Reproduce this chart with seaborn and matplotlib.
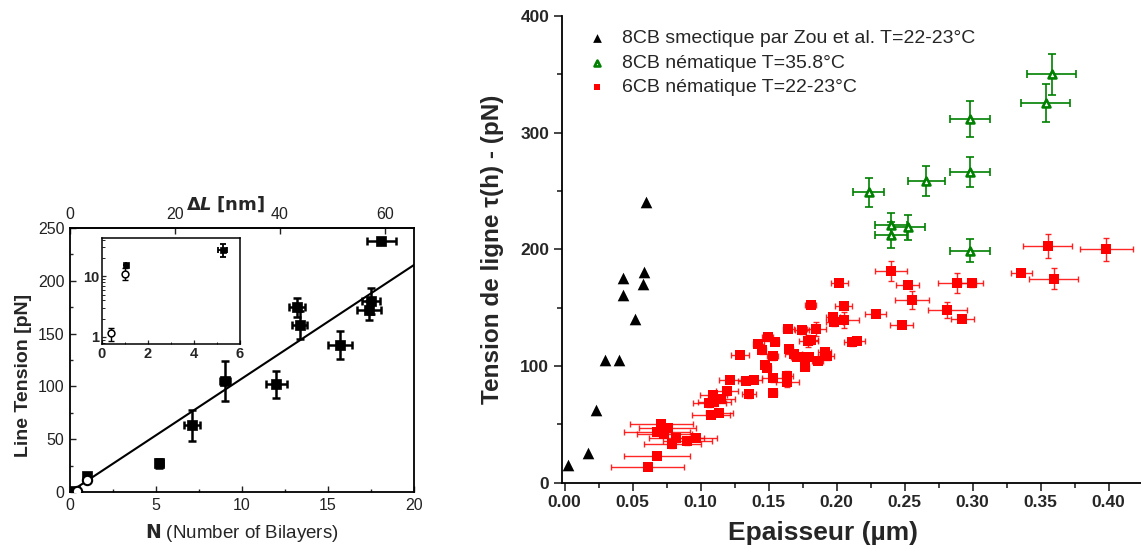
import numpy as np
import pandas as pd
import matplotlib
matplotlib.use("Agg")
import matplotlib.pyplot as plt
import seaborn as sns
from matplotlib.ticker import MultipleLocator, FixedLocator, LogLocator, NullFormatter

sns.set_theme(style="white")
plt.rcParams['font.family'] = ['Liberation Sans', 'DejaVu Sans']
plt.rcParams['axes.unicode_minus'] = False

# ---------------- Left panel data ----------------
bil_N = [18.1, 17.5, 17.4, 15.7, 13.2, 13.35, 12.0, 9.0, 7.1, 5.2, 1.0, 0.3]
bil_T = [238, 181, 172, 139, 175, 158, 102, 105, 63, 27, 15.6, 1.0]
bil_Nerr = [0.85, 0.5, 0.7, 0.7, 0.45, 0.45, 0.6, 0.3, 0.45, 0.2, 0.0, 0.0]
bil_Terr = [3, 12, 9, 13, 9, 13, 13, 19, 15, 4, 2, 0]
open_N = [0.39, 1.0]
open_T = [1.14, 11.1]
open_Terr = [0.28, 2.4]
fit_N = [0, 20]
fit_T = [0, 215]
inset_sq_N = [1.03, 5.25]
inset_sq_T = [15.6, 27.5]
inset_sq_Nerr = [0.0, 0.2]
inset_sq_Terr = [0.0, 7.0]
dl_per_bilayer = 3.28

# ---------------- Right panel data ----------------
smec_h = [0.0027, 0.0174, 0.0228, 0.0299, 0.0399, 0.0519, 0.0429, 0.0429, 0.0576, 0.0581, 0.0601]
smec_T = [15.5, 25.5, 62.5, 105.5, 105.5, 140.5, 160.5, 175.5, 170.5, 180.5, 240.5]

nem8_h = [0.3581, 0.3537, 0.2983, 0.2983, 0.2660, 0.2235, 0.2397, 0.2397, 0.2527, 0.2983]
nem8_T = [350.2, 325.6, 311.9, 266.5, 258.8, 248.8, 220.5, 212.2, 218.8, 198.8]
nem8_herr = [0.018, 0.0179, 0.0148, 0.0148, 0.0135, 0.0112, 0.0118, 0.0118, 0.0124, 0.0148]
nem8_Terr = [17.6, 16.3, 15.3, 13.0, 12.9, 12.4, 10.5, 11.4, 10.9, 10.0]

nem6_h = [0.0612, 0.0680, 0.0711, 0.0757, 0.0678, 0.0733, 0.0822, 0.0790, 0.0900, 0.0966,
          0.1075, 0.1138, 0.1063, 0.1100, 0.1093, 0.1152, 0.1193, 0.1216, 0.1335, 0.1354,
          0.1390, 0.1287, 0.1425, 0.1448, 0.1492, 0.1546, 0.1472, 0.1487, 0.1529, 0.1531,
          0.1533, 0.1637, 0.1637, 0.1645, 0.1647, 0.1683, 0.1706, 0.1745, 0.1770, 0.1749,
          0.1800, 0.1790, 0.1810, 0.1851, 0.1810, 0.1861, 0.1912, 0.1929, 0.1972, 0.1984,
          0.2053, 0.2051, 0.2020, 0.2112, 0.2147, 0.2287, 0.2397, 0.2522, 0.2555, 0.2477,
          0.2815, 0.2885, 0.2994, 0.2925, 0.3358, 0.3551, 0.3595, 0.3984]
nem6_T = [13.5, 23.0, 50.2, 46.8, 43.8, 41.8, 38.0, 32.9, 35.5, 38.7,
          58.3, 59.8, 68.0, 69.0, 75.0, 72.0, 78.2, 88.3, 87.5, 75.8,
          88.4, 109.8, 119.0, 113.7, 124.5, 120.9, 101.2, 98.4, 108.3, 89.6,
          76.9, 91.6, 86.0, 132.1, 114.3, 110.4, 107.9, 130.5, 99.4, 107.9,
          107.9, 121.7, 122.3, 131.7, 152.7, 104.5, 112.3, 108.5, 142.2, 137.4,
          139.7, 151.7, 171.4, 120.5, 121.8, 144.8, 181.1, 169.8, 156.7, 135.5,
          148.0, 171.1, 171.0, 140.5, 180.0, 203.0, 175.0, 199.9]
nem6_herr = [0.0268, 0.0243, 0.0233, 0.021, 0.024, 0.020, 0.020, 0.021, 0.018, 0.0157,
             0.014, 0.010, 0.012, 0.012, 0.010, 0.010, 0.008, 0.008, 0.006, 0.005,
             0.006, 0.0067, 0.004, 0.003, 0.004, 0.003, 0.003, 0.003, 0.004, 0.008,
             0.003, 0.004, 0.0086, 0.004, 0.003, 0.006, 0.004, 0.005, 0.003, 0.005,
             0.006, 0.007, 0.005, 0.007, 0.004, 0.004, 0.005, 0.005, 0.005, 0.006,
             0.011, 0.006, 0.006, 0.006, 0.006, 0.0078, 0.0118, 0.0087, 0.0126, 0.0083,
             0.0142, 0.0143, 0.008, 0.0087, 0.0077, 0.0178, 0.018, 0.0197]
nem6_Terr = [2, 2, 3, 3, 3, 3, 3, 3, 3, 3,
             3, 3, 3, 3, 3, 3, 3, 3, 3, 3,
             3, 3, 3, 3, 3, 3, 3, 3, 3, 3,
             3, 4, 4, 3, 3, 3, 3, 3, 3, 3,
             3, 5, 3, 6, 3, 3, 3, 3, 3, 3,
             7, 3, 3, 3, 3, 3, 8.6, 3, 7.7, 3,
             7.0, 8.6, 3, 3, 3, 10.0, 8.7, 10.0]

labels = ["8CB smectique par Zou et al. T=22-23°C",
          "8CB nématique T=35.8°C",
          "6CB nématique T=22-23°C"]

W, H = 1141, 549
fig = plt.figure(figsize=(W / 100, H / 100), dpi=100)
fig.patch.set_facecolor("white")

def fb(l, t, r, b):
    return [l / W, 1 - b / H, (r - l) / W, (b - t) / H]

# ================= Left panel =================
axL = fig.add_axes(fb(70, 228, 414, 492))
axL.set_facecolor("white")
axL.plot(fit_N, fit_T, color="black", lw=1.5, zorder=2)
axL.errorbar(bil_N, bil_T, xerr=bil_Nerr, yerr=bil_Terr, fmt="none", ecolor="black",
             elinewidth=1.8, capsize=2.8, capthick=1.8, zorder=3)
axL.errorbar(open_N, open_T, yerr=open_Terr, fmt="none", ecolor="black",
             elinewidth=1.2, capsize=2, capthick=1.2, zorder=3)
sns.scatterplot(x=bil_N, y=bil_T, ax=axL, marker="s", s=42, color="black",
                edgecolor="black", linewidth=0.5, zorder=4)
sns.scatterplot(x=open_N, y=open_T, ax=axL, marker="o", s=45, facecolor="white",
                edgecolor="black", linewidth=1.5, zorder=5)
axL.set_xlim(0, 20)
axL.set_ylim(0, 250)
axL.xaxis.set_major_locator(MultipleLocator(5))
axL.yaxis.set_major_locator(MultipleLocator(50))
axL.yaxis.set_minor_locator(MultipleLocator(25))
axL.xaxis.set_minor_locator(MultipleLocator(2.5))
axL.tick_params(which="major", direction="in", length=4, width=1, labelsize=11.5,
                colors="#222222", pad=4, left=True, bottom=True)
axL.tick_params(which="minor", direction="in", length=2.5, width=1, left=True, bottom=True)
for sp in axL.spines.values():
    sp.set_color("black")
    sp.set_linewidth(1.3)
axL.set_ylabel("Line Tension [pN]", fontsize=14, fontweight="bold", labelpad=4, y=0.443)
axL.set_xlabel(r"$\mathbf{N}$ (Number of Bilayers)", fontsize=13.5, labelpad=7)
sec = axL.secondary_xaxis("top", functions=(lambda n: n * dl_per_bilayer,
                                             lambda d: d / dl_per_bilayer))
sec.xaxis.set_major_locator(FixedLocator([0, 20, 40, 60]))
sec.tick_params(direction="in", length=4, width=1, labelsize=11.5, colors="#222222", pad=4)
sec.set_xlabel(r"$\mathbf{\Delta}\mathbfit{L}$ $\mathbf{[nm]}$", fontsize=13, labelpad=-2,
               x=0.453)

# inset
axI = fig.add_axes(fb(102, 238, 240, 344))
axI.set_facecolor("white")
axI.set_yscale("log")
axI.errorbar(inset_sq_N, inset_sq_T, xerr=inset_sq_Nerr, yerr=inset_sq_Terr, fmt="none",
             ecolor="black", elinewidth=1.3, capsize=2, capthick=1.3, zorder=3)
axI.errorbar(open_N, open_T, yerr=open_Terr, fmt="none", ecolor="black",
             elinewidth=1.0, capsize=2, capthick=1.0, zorder=3)
sns.scatterplot(x=inset_sq_N, y=inset_sq_T, ax=axI, marker="s", s=18, color="black",
                edgecolor="black", linewidth=0.5, zorder=4)
sns.scatterplot(x=open_N, y=open_T, ax=axI, marker="o", s=24, facecolor="white",
                edgecolor="black", linewidth=1.1, zorder=5)
axI.set_xlim(0, 6)
axI.set_ylim(0.76, 43)
axI.xaxis.set_major_locator(MultipleLocator(2))
axI.xaxis.set_minor_locator(MultipleLocator(1))
axI.yaxis.set_major_locator(FixedLocator([1, 10]))
axI.yaxis.set_major_formatter(matplotlib.ticker.FixedFormatter(["1", "10"]))
axI.yaxis.set_minor_locator(LogLocator(subs=np.arange(2, 10)))
axI.yaxis.set_minor_formatter(NullFormatter())
axI.tick_params(which="major", direction="in", length=3, width=0.9, labelsize=10.5, pad=2,
                left=True, bottom=True)
axI.tick_params(which="minor", direction="in", length=1.8, width=0.7, left=True, bottom=True)
for t in axI.get_xticklabels() + axI.get_yticklabels():
    t.set_fontweight("bold")
for sp in axI.spines.values():
    sp.set_color("black")
    sp.set_linewidth(1.1)

# ================= Right panel =================
axR = fig.add_axes(fb(561.7, 16, 1141, 482.7))
axR.set_facecolor("white")
axR.errorbar(nem6_h, nem6_T, xerr=nem6_herr, yerr=nem6_Terr, fmt="none", ecolor="red",
             elinewidth=1.0, capsize=2.5, capthick=1.0, alpha=0.85, zorder=2)
axR.errorbar(nem8_h, nem8_T, xerr=nem8_herr, yerr=nem8_Terr, fmt="none", ecolor="green",
             elinewidth=1.2, capsize=2.8, capthick=1.2, zorder=2)
sns.scatterplot(x=smec_h, y=smec_T, ax=axR, marker="^", s=70, color="black",
                edgecolor="black", linewidth=0, zorder=4, label=labels[0])
sns.scatterplot(x=nem8_h, y=nem8_T, ax=axR, marker="^", s=32, facecolor="white",
                edgecolor="green", linewidth=1.9, zorder=4, label=labels[1])
sns.scatterplot(x=nem6_h, y=nem6_T, ax=axR, marker="s", s=42, color="red",
                edgecolor="red", linewidth=0, zorder=4, label=labels[2])
axR.set_xlim(-0.0022, 0.4238)
axR.set_ylim(0, 400)
axR.xaxis.set_major_locator(MultipleLocator(0.05))
axR.xaxis.set_minor_locator(MultipleLocator(0.025))
axR.yaxis.set_major_locator(MultipleLocator(100))
axR.yaxis.set_minor_locator(MultipleLocator(50))
axR.xaxis.set_major_formatter(matplotlib.ticker.FormatStrFormatter("%.2f"))
sns.despine(ax=axR)
for sp in ["left", "bottom"]:
    axR.spines[sp].set_color("black")
    axR.spines[sp].set_linewidth(1.3)
axR.tick_params(which="major", direction="out", length=6, width=1.2, labelsize=12.5,
                pad=3, left=True, bottom=True)
axR.tick_params(which="minor", direction="out", length=3.5, width=1.2, left=True, bottom=True)
for t in axR.get_xticklabels() + axR.get_yticklabels():
    t.set_fontweight("bold")
axR.set_xlabel("Epaisseur (µm)", fontsize=19, fontweight="bold", labelpad=8, x=0.451)
axR.set_ylabel("Tension de ligne τ(h) - (pN)", fontsize=17.5, fontweight="bold", labelpad=12)

leg = axR.legend(loc="upper left", bbox_to_anchor=(587 / W, 1 - 29.5 / H),
                 bbox_transform=fig.transFigure, frameon=False, fontsize=14,
                 markerscale=0.75, handlelength=1.0, handletextpad=0.8,
                 labelspacing=0.36, borderpad=0, borderaxespad=0)

fig.savefig("out.png", dpi=100, facecolor="white")
